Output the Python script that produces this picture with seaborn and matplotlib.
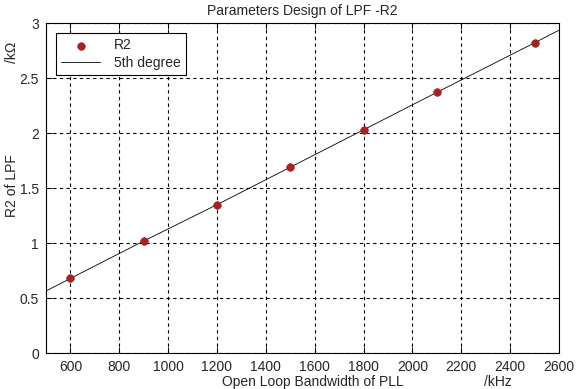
import numpy as np
import pandas as pd
import seaborn as sns
import matplotlib.pyplot as plt

# measured R2 values (kOhm) vs open loop bandwidth (kHz)
bandwidth = [600, 900, 1200, 1500, 1800, 2100, 2500]
r2_values = [0.68, 1.02, 1.35, 1.69, 2.03, 2.37, 2.82]

# 5th degree fit curve
fit_bw = [500, 600, 900, 1200, 1500, 1800, 2100, 2500, 2600]
fit_r2 = [0.566, 0.68, 1.02, 1.35, 1.69, 2.03, 2.37, 2.82, 2.935]

x_ticks = [600, 800, 1000, 1200, 1400, 1600, 1800, 2000, 2200, 2400, 2600]
y_ticks = [0, 0.5, 1, 1.5, 2, 2.5, 3]

pts = pd.DataFrame({'bw': bandwidth, 'r2': r2_values})
fit = pd.DataFrame({'bw': fit_bw, 'r2': fit_r2})

sns.set_theme(style='ticks', rc={'xtick.direction': 'in', 'ytick.direction': 'in',
                                 'xtick.top': True, 'ytick.right': True})
plt.rcParams['font.family'] = ['Liberation Sans', 'DejaVu Sans']

fig = plt.figure(figsize=(5.77, 3.89), dpi=100)
ax = fig.add_axes([0.0797, 0.0918, 0.889, 0.849])

sns.scatterplot(data=pts, x='bw', y='r2', ax=ax, color='#a32222', s=30,
                edgecolor='#a32222', linewidth=0.5, label='R2', zorder=3)
sns.lineplot(data=fit, x='bw', y='r2', ax=ax, color='black', linewidth=0.6,
             label='5th degree', zorder=2)

ax.set_xlim(500, 2600)
ax.set_ylim(0, 3)
ax.set_xticks(x_ticks)
ax.set_yticks(y_ticks)
ax.set_yticklabels(['0', '0.5', '1', '1.5', '2', '2.5', '3'])
ax.tick_params(labelsize=10, length=4, width=0.7, color='black', pad=5)
for s in ax.spines.values():
    s.set_color('black')
    s.set_linewidth(0.8)
ax.grid(True, color='black', linestyle=(0, (3, 3)), linewidth=0.8)

ax.set_title('Parameters Design of LPF -R2', fontsize=10, pad=6)
ax.set_xlabel('')
ax.set_ylabel('')
fig.text(0.542, 0.018, 'Open Loop Bandwidth of PLL', fontsize=10, ha='center', va='center')
fig.text(0.863, 0.018, '/kHz', fontsize=10, ha='center', va='center')
fig.text(0.021, 0.524, 'R2 of LPF', fontsize=10, ha='center', va='center', rotation=90)
fig.text(0.021, 0.866, '/k\u03a9', fontsize=10, ha='center', va='center', rotation=90)

leg = ax.legend(loc='upper left', fontsize=10, frameon=True, fancybox=False,
                edgecolor='black', framealpha=1, handlelength=2.8,
                borderaxespad=0.7, borderpad=0.4, labelspacing=0.25,
                handletextpad=1.0)
leg.get_frame().set_linewidth(0.8)

fig.savefig('out.png', dpi=100, facecolor='white')
